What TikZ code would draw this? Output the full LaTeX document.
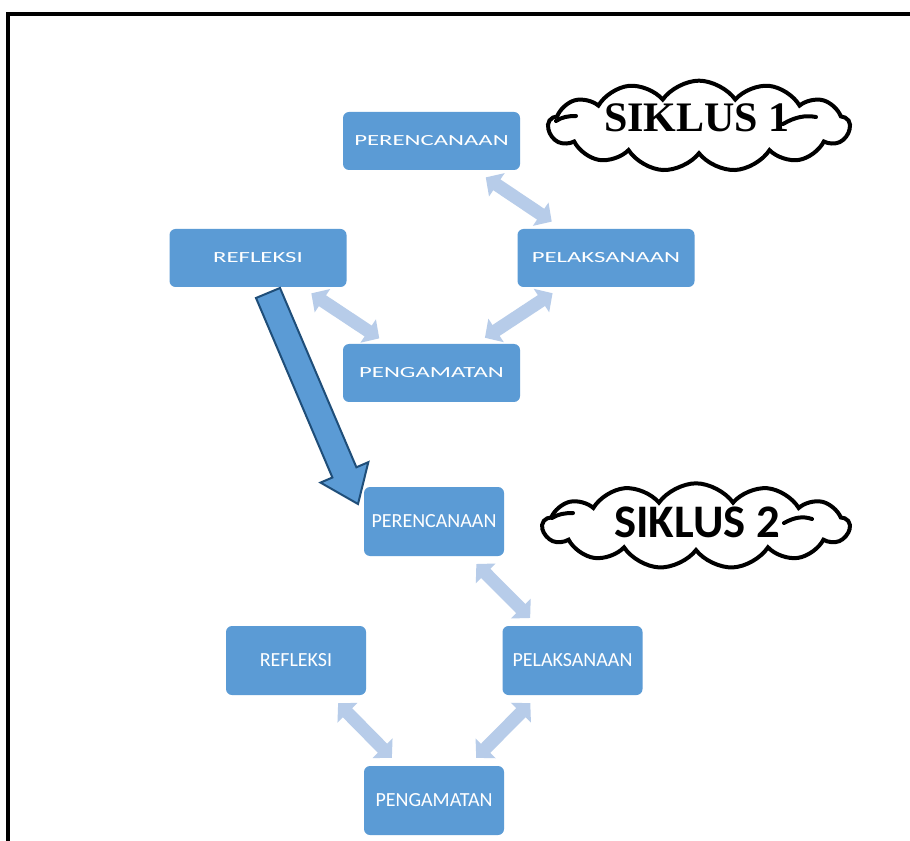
\documentclass[tikz,border=0pt]{standalone}
\usepackage{fontspec}
\newfontfamily\carlito{Carlito}
\newfontfamily\libserif{Liberation Serif}
\usetikzlibrary{shapes.symbols,arrows.meta}
\definecolor{boxblue}{HTML}{5B9BD5}
\definecolor{lightarr}{HTML}{B7CCE9}
\definecolor{darkedge}{HTML}{1F4E79}
\tikzset{
  boxA/.style={rectangle, rounded corners=4.5pt, fill=boxblue, text=white,
    minimum width=132.75pt, minimum height=43.5pt, inner sep=0pt,
    font=\carlito\fontsize{11.6pt}{12pt}\selectfont},
  boxB/.style={rectangle, rounded corners=4.5pt, fill=boxblue, text=white,
    minimum width=105pt, minimum height=51.75pt, inner sep=0pt,
    font=\carlito\fontsize{15pt}{17pt}\selectfont},
  dblarr/.style={draw=lightarr, line width=9.75pt,
    {Triangle[length=10pt,width=20.5pt]}-{Triangle[length=10pt,width=20.5pt]}},
  cloudbox/.style={cloud, cloud puffs=13, cloud puff arc=110, aspect=3.6,
    draw=black, line width=3pt, fill=white, inner sep=0pt},
  cloudmark/.style={line width=3pt, line cap=round},
}
\newcommand{\widetxt}[1]{\scalebox{1.6}[1]{#1}}
\begin{document}
\begin{tikzpicture}[x=0.75pt,y=-0.75pt]
\useasboundingbox (0,0) rectangle (910,841);
\fill[white] (0,0) rectangle (910,841);
% frame
\draw[line width=2.3pt] (8,850) -- (8,14) -- (920,14);

% cycle 1
\node[boxA] (per1) at (431.5,141) {\widetxt{PERENCANAAN}};
\node[boxA] (pel1) at (606,258) {\widetxt{PELAKSANAAN}};
\node[boxA] (ref1) at (258,258) {\widetxt{REFLEKSI}};
\node[boxA] (peng1) at (431.5,373) {\widetxt{PENGAMATAN}};

\draw[dblarr, shorten <=49pt, shorten >=49pt] (per1.center) -- (pel1.center);
\draw[dblarr, shorten <=48pt, shorten >=48pt] (pel1.center) -- (peng1.center);
\draw[dblarr, shorten <=48pt, shorten >=47pt] (ref1.center) -- (peng1.center);

% cycle 2
\node[boxB] (per2) at (434,521.5) {PERENCANAAN};
\node[boxB] (pel2) at (572.5,660.5) {PELAKSANAAN};
\node[boxB] (ref2) at (296,660.5) {REFLEKSI};
\node[boxB] (peng2) at (434,800.5) {PENGAMATAN};

\draw[dblarr, shorten <=45pt, shorten >=45pt] (per2.center) -- (pel2.center);
\draw[dblarr, shorten <=45pt, shorten >=45pt] (pel2.center) -- (peng2.center);
\draw[dblarr, shorten <=45pt, shorten >=45pt] (ref2.center) -- (peng2.center);

% big arrow from cycle 1 to cycle 2
\coordinate (bigA) at (268,293);
\coordinate (bigT) at (358,504);
\draw[fill=boxblue, draw=darkedge, line width=1.5pt, line join=miter]
  (280,288) -- (356.4,467.3) -- (368.3,462.2) -- (bigT) -- (320.5,482.6)
  -- (332.4,477.5) -- (256,298) -- cycle;

% clouds
\node[cloudbox, minimum width=226pt, minimum height=68pt] (c1) at (699,126) {};
\draw[cloudmark] (556,121) .. controls (562,117) and (568,116) .. (576,116);
\draw[cloudmark] (783,124) .. controls (795,117) and (805,115) .. (816,117);
\node[font=\libserif\bfseries\fontsize{31.5pt}{34pt}\selectfont] (t1) at (697,118) {SIKLUS 1};
\node[cloudbox, minimum width=230pt, minimum height=64pt] (c2) at (696,526) {};
\draw[cloudmark] (552,518) .. controls (558,514) and (565,513) .. (573,513);
\draw[cloudmark] (784,523) .. controls (795,517) and (803,516) .. (812,519);
\node[font=\carlito\bfseries\fontsize{35pt}{38pt}\selectfont] (t2) at (697,522) {SIKLUS 2};
\end{tikzpicture}
\end{document}
